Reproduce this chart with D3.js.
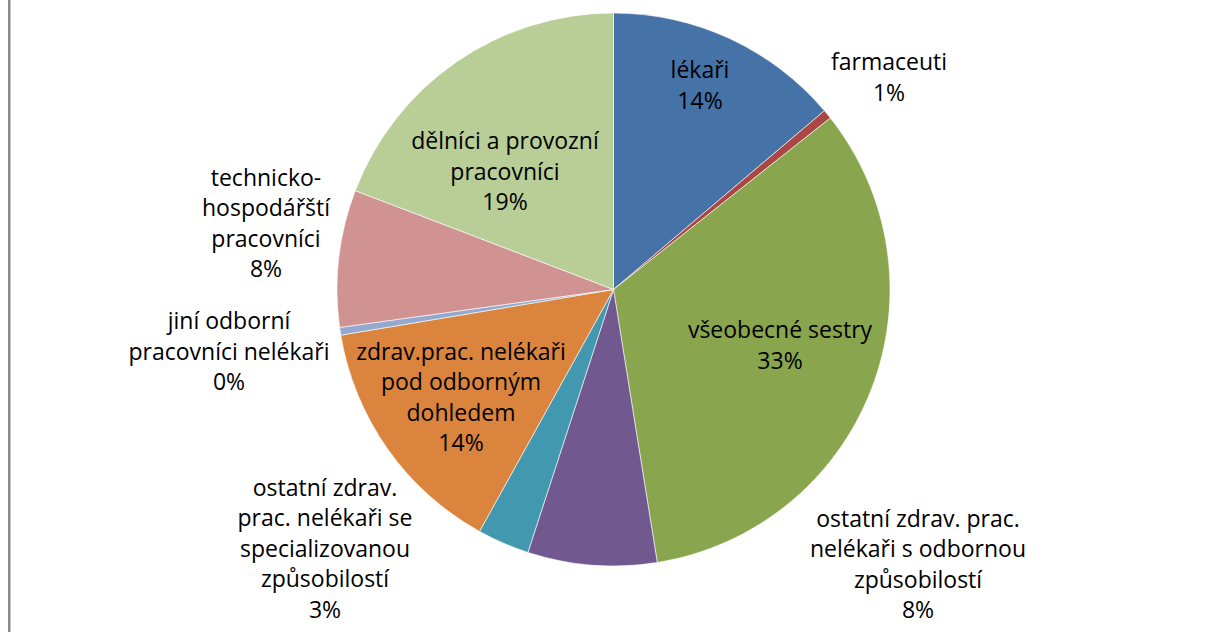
<!DOCTYPE html>
<html>
<head>
<meta charset="utf-8">
<script src="https://cdn.jsdelivr.net/npm/d3@7"></script>
<style>
  html, body { margin: 0; padding: 0; background: #fff; }
  svg { display: block; }
</style>
</head>
<body>
<svg id="chart" width="1206" height="632"></svg>
<script>
// categories (line breaks as in the chart labels)
const categories = [
  "lékaři",
  "farmaceuti",
  "všeobecné sestry",
  "ostatní zdrav. prac.\nnelékaři s odbornou\nzpůsobilostí",
  "ostatní zdrav.\nprac. nelékaři se\nspecializovanou\nzpůsobilostí",
  "zdrav.prac. nelékaři\npod odborným\ndohledem",
  "jiní odborní\npracovníci nelékaři",
  "technicko-\nhospodářští\npracovníci",
  "dělníci a provozní\npracovníci"
];

// share of staff, percent
const values = [13.81, 0.54, 33.12, 7.54, 3.04, 14.31, 0.45, 8.01, 19.18];

const colors = [
  "#4572A7", "#AA4643", "#89A54E", "#71588F", "#4198AF",
  "#DB843D", "#93A9CF", "#D19392", "#B9CD96"
];

// label block centres (Excel "best fit" placement)
const labelPos = [
  [700, 86], [889, 78], [780, 346], [918, 565], [325, 549],
  [461, 398], [229, 352], [266, 224], [505, 172]
];

const width = 1206;
const height = 632;
const cx = 613.5;
const cy = 289.5;
const radius = 276.5;
const lineH = 30.5;

const svg = d3.select("#chart");

svg.append("rect")
  .attr("width", width)
  .attr("height", height)
  .attr("fill", "#fff");

// chart area frame, only the left edge is visible in the crop
svg.append("rect")
  .attr("x", 8)
  .attr("y", 0)
  .attr("width", 2.5)
  .attr("height", height)
  .attr("fill", "#8a8a8a");

const pie = d3.pie().sort(null).value(d => d);
const arc = d3.arc().innerRadius(0).outerRadius(radius);
const arcs = pie(values);
const total = d3.sum(values);

const g = svg.append("g").attr("transform", `translate(${cx},${cy})`);

g.selectAll("path.slice")
  .data(arcs)
  .enter()
  .append("path")
  .attr("class", "slice")
  .attr("d", arc)
  .attr("fill", (d, i) => colors[i])
  .attr("stroke", "#fff")
  .attr("stroke-width", 0.6);

// data labels
const labels = svg.selectAll("text.label")
  .data(arcs)
  .enter()
  .append("text")
  .attr("class", "label")
  .attr("text-anchor", "middle")
  .attr("font-family", "'Open Sans', sans-serif")
  .attr("font-size", 23)
  .attr("fill", "#000");

labels.each(function (d, i) {
  const lines = categories[i].split("\n");
  lines.push(Math.round(d.value / total * 100) + "%");
  const [x, y] = labelPos[i];
  const n = lines.length;
  d3.select(this).selectAll("tspan")
    .data(lines)
    .enter()
    .append("tspan")
    .attr("x", x)
    .attr("y", (t, k) => y + (k - (n - 1) / 2) * lineH + 7.5)
    .text(t => t);
});
</script>
</body>
</html>
